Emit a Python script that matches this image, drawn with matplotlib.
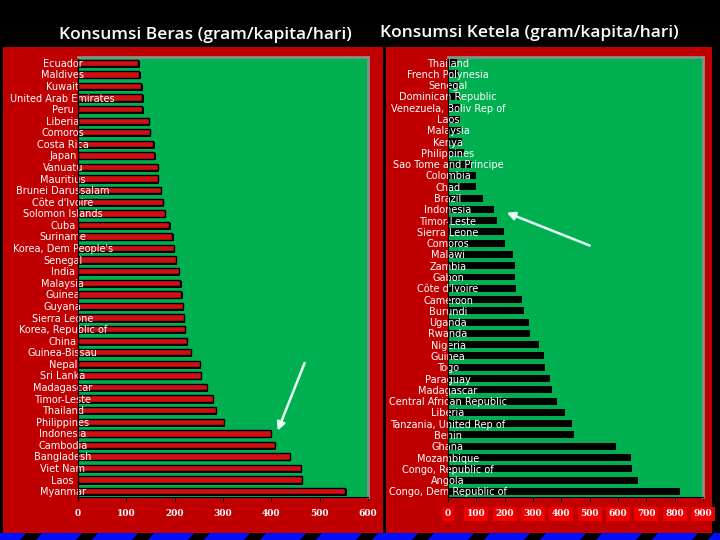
import matplotlib
matplotlib.use('Agg')
import matplotlib.pyplot as plt
from matplotlib.patches import Rectangle, Polygon

RED = '#c00000'
GREEN = '#00b050'
GREY = '#8c8c8c'

# rice consumption (gram/capita/day)
rice_countries = [
    'Ecuador', 'Maldives', 'Kuwait', 'United Arab Emirates', 'Peru', 'Liberia',
    'Comoros', 'Costa Rica', 'Japan', 'Vanuatu', 'Mauritius', 'Brunei Darussalam',
    "Côte d'Ivoire", 'Solomon Islands', 'Cuba', 'Suriname', "Korea, Dem People's",
    'Senegal', 'India', 'Malaysia', 'Guinea', 'Guyana', 'Sierra Leone',
    'Korea, Republic of', 'China', 'Guinea-Bissau', 'Nepal', 'Sri Lanka',
    'Madagascar', 'Timor-Leste', 'Thailand', 'Philippines', 'Indonesia',
    'Cambodia', 'Bangladesh', 'Viet Nam', 'Laos', 'Myanmar',
]
rice_values = [
    125, 127, 131, 133, 133, 146, 148, 156, 158, 165, 165, 171, 175, 179, 189,
    195, 198, 202, 208, 212, 214, 217, 219, 221, 225, 233, 252, 254, 266, 279,
    285, 302, 399, 407, 438, 461, 463, 553,
]

# cassava consumption (gram/capita/day)
cassava_countries = [
    'Thailand', 'French Polynesia', 'Senegal', 'Dominican Republic',
    'Venezuela, Boliv Rep of', 'Laos', 'Malaysia', 'Kenya', 'Philippines',
    'Sao Tome and Principe', 'Colombia', 'Chad', 'Brazil', 'Indonesia',
    'Timor-Leste', 'Sierra Leone', 'Comoros', 'Malawi', 'Zambia', 'Gabon',
    "Côte d'Ivoire", 'Cameroon', 'Burundi', 'Uganda', 'Rwanda', 'Nigeria',
    'Guinea', 'Togo', 'Paraguay', 'Madagascar', 'Central African Republic',
    'Liberia', 'Tanzania, United Rep of', 'Benin', 'Ghana', 'Mozambique',
    'Congo, Republic of', 'Angola', 'Congo, Dem Republic of',
]
cassava_values = [
    31, 36, 40, 42, 42, 44, 45, 48, 55, 84, 98, 98, 123, 161, 172, 197, 200,
    229, 236, 236, 239, 260, 267, 285, 289, 320, 338, 342, 359, 366, 384, 412,
    437, 444, 592, 645, 649, 670, 819,
]

rice_ticks = [0, 100, 200, 300, 400, 500, 600]
cassava_ticks = [0, 100, 200, 300, 400, 500, 600, 700, 800, 900]

fig = plt.figure(figsize=(7.2, 5.4), dpi=100, facecolor='black')

W, H = 720, 540
def fr(x0, y0, x1, y1):
    # pixel box (top-left origin) -> figure fraction rectangle
    return (x0 / W, 1 - y1 / H, (x1 - x0) / W, (y1 - y0) / H)

# red slide panels
for box in [(3, 47, 383, 533), (386, 47, 712, 533)]:
    x, y, w, h = fr(*box)
    fig.patches.append(Rectangle((x, y), w, h, transform=fig.transFigure,
                                 facecolor=RED, edgecolor='none', zorder=-2))

# blue diagonal stripes along the bottom
for x0 in range(-20, 740, 56):
    pts = [(x0 / W, 0), ((x0 + 40) / W, 0), ((x0 + 46) / W, 7 / H), ((x0 + 6) / W, 7 / H)]
    fig.patches.append(Polygon(pts, closed=True, transform=fig.transFigure,
                               facecolor='#0010ff', edgecolor='none', zorder=-2))

fig.text(205 / W, 1 - 35 / H, 'Konsumsi Beras (gram/kapita/hari)', color='white',
         fontsize=12.5, fontfamily='Open Sans', fontweight='semibold',
         ha='center', va='center')
fig.text(529 / W, 1 - 33 / H, 'Konsumsi Ketela (gram/kapita/hari)', color='white',
         fontsize=12.5, fontfamily='Open Sans', fontweight='semibold',
         ha='center', va='center')


def setup(ax, labels, ticks, label_pad, tick_box):
    n = len(labels)
    ax.set_zorder(2)
    ax.set_facecolor(GREEN)
    ax.set_ylim(n - 0.5, -0.5)
    ax.set_xlim(ticks[0], ticks[-1])
    ax.set_yticks(range(n))
    ax.set_yticklabels(labels, fontsize=7, color='white')
    for lbl in ax.get_yticklabels():
        lbl.set_ha('center')
    ax.tick_params(axis='y', length=0, pad=label_pad)
    ax.set_xticks(ticks)
    ax.set_xticklabels([str(t) for t in ticks], fontsize=6.5, color='white',
                       fontweight='bold', fontfamily='DejaVu Serif')
    ax.tick_params(axis='x', length=3, color='black', pad=6)
    if tick_box:
        for lbl in ax.get_xticklabels():
            lbl.set_bbox(dict(facecolor='#ee0000', edgecolor='none', pad=2))
    ax.spines['left'].set_color('black')
    ax.spines['bottom'].set_color('black')
    ax.spines['top'].set_color(GREY)
    ax.spines['right'].set_color(GREY)
    ax.spines['top'].set_linewidth(2)
    ax.spines['right'].set_linewidth(2)


# left: rice
ax1 = fig.add_axes(fr(78, 57, 368, 497))
ypos = range(len(rice_countries))
ax1.barh([y + 0.12 for y in ypos], [v + 3 for v in rice_values], height=0.62,
         color='black', zorder=1)
ax1.barh(ypos, rice_values, height=0.55, color='#d01010', edgecolor='black',
         linewidth=1, zorder=1.2)
setup(ax1, rice_countries, rice_ticks, 11, False)
ax1.annotate('', xy=(411, 32), xytext=(471, 25.7),
             arrowprops=dict(arrowstyle='-|>', color='#e8fff4', lw=1.8,
                             mutation_scale=12))

# right: cassava
ax2 = fig.add_axes(fr(448, 57, 703, 497))
ax2.barh(range(len(cassava_countries)), cassava_values, height=0.62,
         color='black', zorder=1)
setup(ax2, cassava_countries, cassava_ticks, 0, True)
ax2.annotate('', xy=(198, 13.2), xytext=(509, 16.3),
             arrowprops=dict(arrowstyle='-|>', color='#e8fff4', lw=1.8,
                             mutation_scale=12))

plt.savefig('out.png', dpi=100, facecolor='black')
